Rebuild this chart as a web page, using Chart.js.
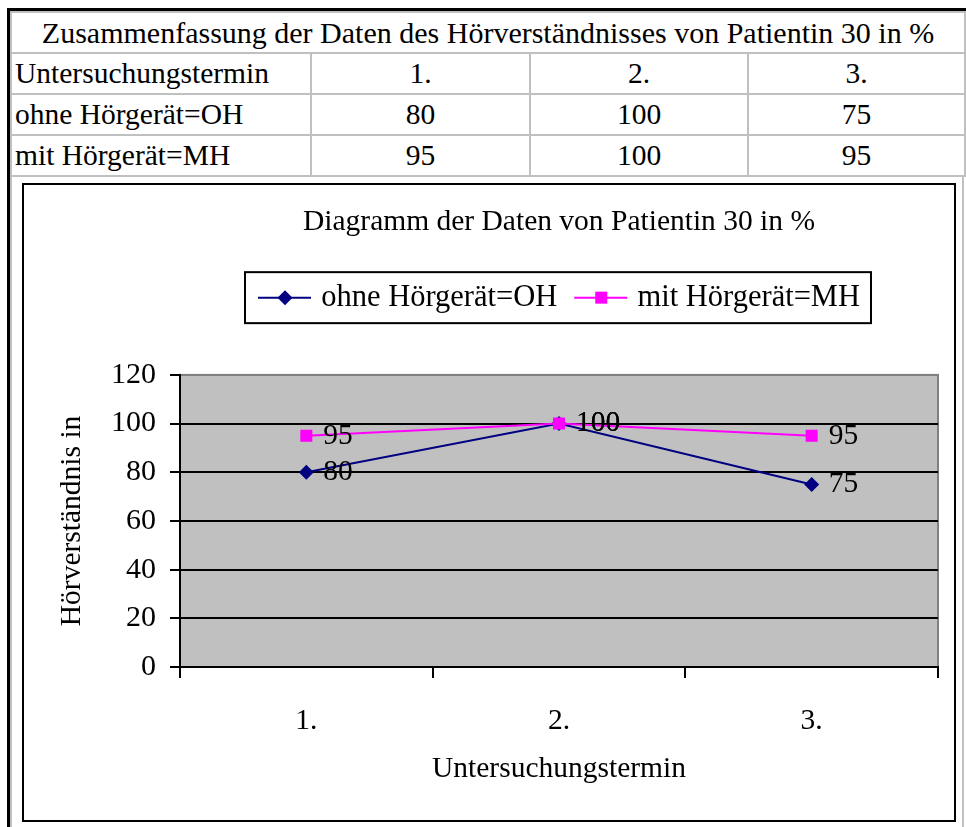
<!DOCTYPE html>
<html lang="de">
<head>
<meta charset="utf-8">
<title>Hörverständnis Patientin 30</title>
<script src="https://cdn.jsdelivr.net/npm/chart.js@4.4.0/dist/chart.umd.min.js"></script>
<style>
  html, body { margin: 0; padding: 0; background: #fff; }
  body { width: 966px; height: 827px; position: relative; overflow: hidden;
         font-family: "Liberation Serif", "Times New Roman", serif; color: #000; }
  #sheet { position: absolute; left: 7px; top: 8px; width: 959px; height: 819px;
           border-left: 3px solid #000; border-top: 3px solid #000; }
  #summary { position: absolute; left: 10px; top: 11px; width: 954px; border-collapse: collapse;
             table-layout: fixed; font-size: 29.5px; }
  #summary td { border: 2px solid #c0c0c0; padding: 0 3px; height: 39px; line-height: 39px;
                text-align: center; white-space: nowrap; overflow: hidden; }
  #summary td.head { text-align: left; }
  #summary td.caption { font-size: 30px; }
  #chartCell { position: absolute; left: 10px; top: 176px; width: 950px; height: 660px;
               border-left: 2px solid #c0c0c0; border-right: 2px solid #c0c0c0; }
  #chartBox { position: absolute; left: 22px; top: 183px; width: 930px; height: 635px;
              border: 2px solid #000; background: #fff; }
  #chartBox canvas { display: block; }
</style>
</head>
<body>
<div id="sheet"></div>
<div id="chartCell"></div>
<table id="summary">
  <colgroup><col style="width:300px"><col style="width:219px"><col style="width:218px"><col style="width:217px"></colgroup>
  <tbody></tbody>
</table>
<div id="chartBox"><canvas id="hoerChart" width="930" height="635"></canvas></div>

<script>
// Hörverständnis in % je Untersuchungstermin
const termine = ['1.', '2.', '3.'];
const ohneHG = [80, 100, 75];
const mitHG = [95, 100, 95];
const reihenNamen = ['ohne Hörgerät=OH', 'mit Hörgerät=MH'];
const yTicks = [0, 20, 40, 60, 80, 100, 120];

const tabellenTitel = 'Zusammenfassung der Daten des Hörverständnisses von Patientin 30 in %';
const diagrammTitel = 'Diagramm der Daten von Patientin 30 in %';
const xTitel = 'Untersuchungstermin';
const yTitel = 'Hörverständnis in';

const FONT = '"Liberation Serif", "Times New Roman", serif';

// Tabelle oberhalb des Diagramms
function buildTable() {
  const body = document.querySelector('#summary tbody');
  const rows = [
    [tabellenTitel],
    [xTitel, ...termine],
    [reihenNamen[0], ...ohneHG],
    [reihenNamen[1], ...mitHG]
  ];
  rows.forEach((cells, r) => {
    const tr = document.createElement('tr');
    cells.forEach((value, c) => {
      const td = document.createElement('td');
      td.textContent = value;
      if (r === 0) {
        td.colSpan = 4;
        td.className = 'caption';
      } else if (c === 0) {
        td.className = 'head';
      }
      tr.appendChild(td);
    });
    body.appendChild(tr);
  });
}

// grauer Hintergrund der Zeichenfläche
const plotBackground = {
  id: 'plotBackground',
  beforeDraw(chart) {
    const { ctx, chartArea: a } = chart;
    ctx.save();
    ctx.fillStyle = '#c0c0c0';
    ctx.fillRect(a.left, a.top, a.width, a.height);
    ctx.strokeStyle = '#808080';
    ctx.lineWidth = 2;
    ctx.strokeRect(a.left, a.top, a.width, a.height);
    ctx.restore();
  }
};

// extra Abstand unter der Legende
const legendSpacing = {
  id: 'legendSpacing',
  beforeUpdate(chart) {
    const legend = chart.legend;
    if (!legend || legend._spaced) return;
    const fit = legend.fit;
    legend.fit = function () {
      fit.call(this);
      this.height += 52;
    };
    legend._spaced = true;
  }
};

function drawMarker(ctx, style, r, x, y) {
  ctx.beginPath();
  if (style === 'rectRot') {
    ctx.moveTo(x - r, y);
    ctx.lineTo(x, y - r);
    ctx.lineTo(x + r, y);
    ctx.lineTo(x, y + r);
    ctx.closePath();
  } else {
    const s = r * Math.SQRT1_2;
    ctx.rect(x - s, y - s, 2 * s, 2 * s);
  }
  ctx.fill();
}

// Linie mit Marker in der Legende und Rahmen darum
const legendSamples = {
  id: 'legendSamples',
  afterDraw(chart) {
    const legend = chart.legend;
    const boxes = legend.legendHitBoxes;
    if (!boxes || !boxes.length) return;
    const ctx = chart.ctx;
    ctx.save();
    boxes.forEach((hb, i) => {
      const ds = chart.data.datasets[legend.legendItems[i].datasetIndex];
      const cy = hb.top + hb.height / 2;
      ctx.strokeStyle = ds.borderColor;
      ctx.lineWidth = 2;
      ctx.beginPath();
      ctx.moveTo(hb.left, cy);
      ctx.lineTo(hb.left + 53, cy);
      ctx.stroke();
      ctx.fillStyle = ds.pointBackgroundColor;
      drawMarker(ctx, ds.pointStyle, ds.pointRadius, hb.left + 27, cy);
    });
    const first = boxes[0];
    const last = boxes[boxes.length - 1];
    const cy = first.top + first.height / 2;
    ctx.strokeStyle = '#000';
    ctx.lineWidth = 2;
    ctx.strokeRect(first.left - 13, cy - 25.5, last.left + last.width - first.left + 24, 51);
    ctx.restore();
  }
};

// Werte rechts neben den Punkten
const valueLabels = {
  id: 'valueLabels',
  afterDatasetsDraw(chart) {
    const ctx = chart.ctx;
    ctx.save();
    ctx.font = '29.5px ' + FONT;
    ctx.fillStyle = '#000';
    ctx.textAlign = 'left';
    ctx.textBaseline = 'middle';
    chart.data.datasets.forEach((ds, di) => {
      chart.getDatasetMeta(di).data.forEach((pt, i) => {
        ctx.fillText(String(ds.data[i]), pt.x + 17, pt.y);
      });
    });
    ctx.restore();
  }
};

function initChart() {
  const font = { family: FONT, size: 29.5, weight: 'normal' };
  const defaultLabels = Chart.defaults.plugins.legend.labels.generateLabels;

  new Chart(document.getElementById('hoerChart'), {
    type: 'line',
    data: {
      labels: termine,
      datasets: [
        {
          label: reihenNamen[0],
          data: ohneHG,
          borderColor: '#000080',
          backgroundColor: '#000080',
          pointBackgroundColor: '#000080',
          pointBorderColor: '#000080',
          pointStyle: 'rectRot',
          pointRadius: 7.5,
          pointBorderWidth: 0,
          borderWidth: 2,
          order: 1
        },
        {
          label: reihenNamen[1],
          data: mitHG,
          borderColor: '#ff00ff',
          backgroundColor: '#ff00ff',
          pointBackgroundColor: '#ff00ff',
          pointBorderColor: '#ff00ff',
          pointStyle: 'rect',
          pointRadius: 8.5,
          pointBorderWidth: 0,
          borderWidth: 2,
          order: 0
        }
      ]
    },
    options: {
      responsive: false,
      animation: false,
      layout: { padding: { left: 0, right: 16, top: 0, bottom: 0 } },
      plugins: {
        title: {
          display: true,
          text: diagrammTitel,
          fullSize: false,
          color: '#000',
          font: font,
          padding: { top: 20, bottom: 25 }
        },
        legend: {
          fullSize: false,
          labels: {
            font: { family: FONT, size: 30.5, weight: 'normal' },
            color: '#000',
            boxWidth: 48,
            boxHeight: 14,
            padding: 17,
            sort: (a, b) => a.datasetIndex - b.datasetIndex,
            generateLabels(chart) {
              return defaultLabels(chart).map(item => Object.assign(item, {
                fillStyle: 'rgba(0,0,0,0)',
                strokeStyle: 'rgba(0,0,0,0)',
                lineWidth: 0
              }));
            }
          }
        },
        tooltip: { enabled: false }
      },
      scales: {
        x: {
          offset: true,
          grid: { offset: true, drawOnChartArea: false, tickLength: 11, color: '#000', lineWidth: 2 },
          border: { color: '#000', width: 2 },
          ticks: { font: font, color: '#000', padding: 26 },
          title: { display: true, text: xTitel, font: font, color: '#000', padding: { top: 0, bottom: 33 } },
          afterFit(scale) { scale.height = 153; }
        },
        y: {
          min: yTicks[0],
          max: yTicks[yTicks.length - 1],
          ticks: { stepSize: yTicks[1] - yTicks[0], font: { family: FONT, size: 30 }, color: '#000', padding: 14 },
          grid: {
            color: ctx => (ctx.tick && ctx.tick.value === yTicks[yTicks.length - 1]) ? '#808080' : '#000',
            tickColor: '#000',
            lineWidth: 2,
            tickLength: 10
          },
          border: { color: '#000', width: 2 },
          title: { display: true, text: yTitel, font: font, color: '#000', padding: { top: 31, bottom: 0 } },
          afterFit(scale) { scale.width = 156; }
        }
      }
    },
    plugins: [plotBackground, legendSpacing, legendSamples, valueLabels]
  });
}

document.addEventListener('DOMContentLoaded', () => {
  buildTable();
  initChart();
});
</script>
</body>
</html>
